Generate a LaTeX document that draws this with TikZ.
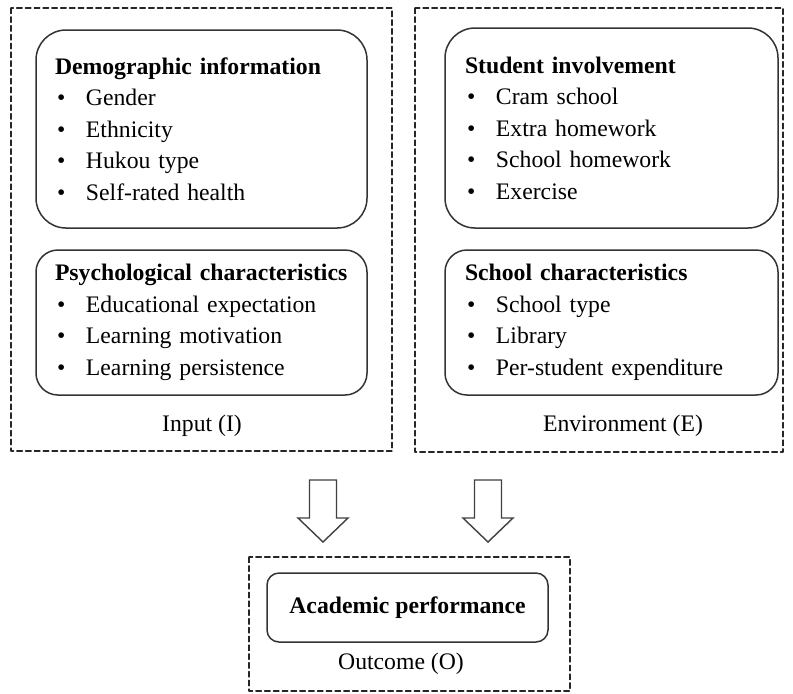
\documentclass[tikz,border=0pt]{standalone}
\usepackage{fontspec}
\setmainfont{Liberation Serif}
\usetikzlibrary{positioning}
\tikzset{every text node part/.style={align=left}}
\tikzset{txt/.style = {font=\fontsize{11.85pt}{15.75pt}\selectfont, inner sep=0pt}}
\tikzset{factor/.style = {txt, draw=black!80, line width=0.75pt, text width=146.5pt,
						 inner xsep=9.5pt, inner ysep=0pt, minimum width=165.5pt}}
\tikzset{group/.style = {draw=black!85, line width=0.6pt, dash pattern=on 2.8pt off 1.6pt}}
\tikzset{flow/.style = {draw=black!75, line width=0.7pt, fill=white, line join=miter}}
\newcommand{\itembullet}[1]{\hspace*{1pt}\makebox[14.5pt][l]{\textbullet}#1}

\begin{document}
\begin{tikzpicture}[x=0.5pt, y=-0.5pt, line cap=round, line join=round]
		\useasboundingbox (0,0) rectangle (793,693);

		% Dashed groups
		\draw[group] (11,8) rectangle (392,451);
		\draw[group] (415,8) rectangle (783,452);
		\draw[group] (249,557) rectangle (570,691);

		% Input factors
		\node[factor, rounded corners=15pt, minimum height=99pt] (demo) at (201.5,129)
			{\textbf{Demographic information}\\
			 \itembullet{Gender}\\
			 \itembullet{Ethnicity}\\
			 \itembullet{Hukou type}\\
			 \itembullet{Self-rated health}};
		\node[factor, rounded corners=11pt, minimum height=72.5pt] (psych) at (201.5,322.5)
			{\textbf{Psychological characteristics}\\
			 \itembullet{Educational expectation}\\
			 \itembullet{Learning motivation}\\
			 \itembullet{Learning persistence}};

		% Environment factors
		\node[factor, rounded corners=15pt, minimum height=100pt, minimum width=166.5pt] (student) at (611.5,128)
			{\textbf{Student involvement}\\
			 \itembullet{Cram school}\\
			 \itembullet{Extra homework}\\
			 \itembullet{School homework}\\
			 \itembullet{Exercise}};
		\node[factor, rounded corners=11pt, minimum height=72.5pt, minimum width=166.5pt] (school) at (611.5,322.5)
			{\textbf{School characteristics}\\
			 \itembullet{School type}\\
			 \itembullet{Library}\\
			 \itembullet{Per-student expenditure}};

		% Outcome
		\node[txt, draw=black!80, line width=0.75pt, rounded corners=6pt, align=center,
			  minimum width=140.5pt, minimum height=34.5pt] (perf) at (407.5,607.5)
			{\textbf{Academic performance}};

		% Group labels
		\node[txt] (input) at (202,426) {Input (I)};
		\node[txt] (env) at (623,426) {Environment (E)};
		\node[txt] (outcome) at (401,664) {Outcome (O)};

		% Block arrows
		\foreach \cx in {323,488}
		{
			\draw[flow] (\cx-13.5,480) -- (\cx+13.5,480) -- (\cx+13.5,518) -- (\cx+25,518)
				-- (\cx,542) -- (\cx-25,518) -- (\cx-13.5,518) -- cycle;
		}
	\end{tikzpicture}
\end{document}
